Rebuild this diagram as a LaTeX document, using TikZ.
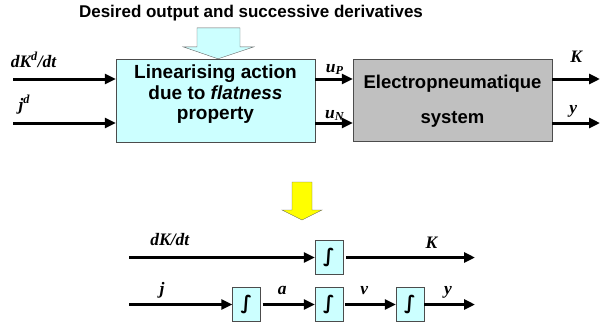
\documentclass[tikz,border=0pt]{standalone}
\usepackage{fontspec}
\setmainfont{Liberation Serif}
\setsansfont{Liberation Sans}
\newfontfamily\intfont{DejaVu Sans}
\usetikzlibrary{positioning,arrows.meta}
\definecolor{paleblue}{HTML}{CCFFFF}
\definecolor{boxgray}{HTML}{C0C0C0}
\definecolor{arrowyellow}{HTML}{FFFF00}
\tikzset{
  sig/.style={line width=3pt, -{Triangle[length=11pt,width=10pt]}},
  lbl/.style={font=\fontsize{17.5}{19}\selectfont\bfseries\itshape, inner sep=0pt,
    anchor=base, yshift=#1},
  lbl/.default=11pt,
  intbox/.style={draw=black!70, fill=paleblue, minimum width=28pt, minimum height=34pt,
    inner sep=0pt, font=\fontsize{19}{19}\selectfont\intfont\bfseries},
}
\begin{document}
\begin{tikzpicture}[x=1pt,y=-1pt]
\useasboundingbox (0,0) rectangle (603,325);

% upper scheme: the two blocks
\node[draw=black!70, fill=paleblue, minimum width=199pt, minimum height=83pt] (lin) at (215.5,100.5) {};
\node[font=\fontsize{19}{20.5}\selectfont\sffamily\bfseries, align=center] (lintext)
  at ([yshift=6pt]lin.center) {Linearising action\\due to \textit{flatness}\\property};
\node[draw=black!70, fill=boxgray, minimum width=199pt, minimum height=82pt] (sys) at (452.5,100) {};
\node[font=\fontsize{18.5}{21}\selectfont\sffamily\bfseries, align=center] (systext)
  at ([yshift=-1pt]sys.center) {Electropneumatique\\[14pt]system};

\node[font=\fontsize{17}{19}\selectfont\sffamily\bfseries] (desired) at (251,13)
  {Desired output and successive derivatives};
\draw[draw=black!60, fill=paleblue] ([xshift=2.5pt]lin.north) -- ++(-35,-12) -- ++(14,0) -- ++(0,-19)
  -- ++(43,0) -- ++(0,19) -- ++(14,0) -- cycle;

% signals in and out
\coordinate (dkin) at (13,79);
\coordinate (jin) at (13,123);
\coordinate (kout) at (600,79);
\coordinate (yout) at (600,123);
\draw[sig] (dkin) -- node[lbl=12pt, pos=.2] {dK\textsuperscript{d}/dt} (dkin -| lin.west);
\draw[sig] (jin) -- node[lbl=13pt, pos=.11] {j\textsuperscript{d}} (jin -| lin.west);
\draw[sig] (lin.east |- dkin) -- node[lbl=7pt, pos=.52] {u\textsubscript{P}} (sys.west |- dkin);
\draw[sig] (lin.east |- jin) -- node[lbl=5pt, pos=.52] {u\textsubscript{N}} (sys.west |- jin);
\draw[sig] (sys.east |- kout) -- node[lbl=17pt, pos=.5] {K} (kout);
\draw[sig] (sys.east |- yout) -- node[lbl=10pt, pos=.44] {y} (yout);

% yellow arrow
\draw[draw=black!60, fill=arrowyellow] (302,220) -- ++(-20,-10) -- ++(10,0) -- ++(0,-28)
  -- ++(20,0) -- ++(0,28) -- ++(10,0) -- cycle;

% lower scheme: the integrators
\node[intbox] (intK) at (329,257.5) {∫};
\foreach \n/\x in {A/246.5, V/329, Y/410}
  \node[intbox] (int\n) at (\x,304.5) {∫};

\coordinate (dKin) at (129,257.5);
\coordinate (Kend) at (475,257.5);
\coordinate (jstart) at (129,304.5);
\coordinate (yend) at (475,304.5);
\draw[sig] (dKin) -- node[lbl=12pt, pos=.22] {dK/dt} (intK);
\draw[sig, shorten <=3pt] (intK) -- node[lbl=9pt, pos=.67] {K} (Kend);
\draw[sig] (jstart) -- node[lbl=10pt, pos=.32] {j} (intA);
\draw[sig, shorten <=2pt] (intA) -- node[lbl=10pt, pos=.4] {a} (intV);
\draw[sig, shorten <=2pt] (intV) -- node[lbl=10pt, pos=.4] {v} (intY);
\draw[sig] (intY) -- node[lbl=10pt, pos=.47] {y} (yend);

\end{tikzpicture}
\end{document}
